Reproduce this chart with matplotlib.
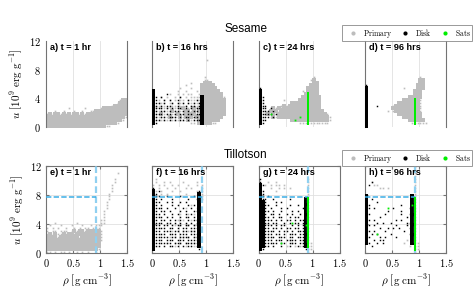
import matplotlib
matplotlib.use('Agg')
import matplotlib.pyplot as plt
from matplotlib.lines import Line2D

plt.rcParams['mathtext.fontset'] = 'cm'
plt.rcParams['font.family'] = ['Liberation Sans', 'DejaVu Sans']

# ---------------- data: occupancy ----------------
# Each map is a list of rows, top row first, last row = lowest u-bin (u 0-0.4).
# Column i covers rho in [0.05 i, 0.05 (i+1)]; row b covers u in [0.4 b, 0.4 (b+1)].
# '#' dense primary, '+' sparse primary, 'K' dense disk, 'k' sparse disk,
# 'G' dense satellites, 'g' sparse satellites, '.' empty.
RHO_STEP = 0.05
U_STEP = 0.4

a_grey = [
    "...........................+##",
    "..........................+###",
    "........................+#####",
    "........+.....+.....+#########",
    "...+..+...+..+..++############",
    "+#+##+#+#+##+#+###############",
    "#############################+",
    "############################+.",
    "##########################+...",
    "######################++......",
]

b_grey = [
    "....................+",
    "", "", "", "", "",
    "...................+",
    "...................++",
    "..............+....###",
    "............+.....#####",
    "..........+...+...######",
    ".........+..+...+.#######",
    "......+..+.+.++..+########",
    "...+.+..+.+.+.++++########+",
    "..+.+.+.+.++.+++++#########",
    "+.+++.++.+++.+++++#########",
    "+++++.+++++++.++++#########",
    "++.++++++++#+++#++#########",
    "+++++++#++++##+#+##########",
    "+++#+++++#++####++#########",
    "++++++#+++#+#+#+##########",
    "+++++++++++++#+++########",
    "..............++.#####++",
    "",
]
b_black = [
    "K",
    "K....k",
    "Kk.k......k.......K",
    "Kk..k.k..k...k..k.K",
    "Kkk.k..k.k.k.k.k.kK",
    "Kk.k.kk..k..k.kk.kK",
    "Kkkk.k.k.kk.k.k.kkK",
    "Kk.kk.k.kk.k.k.kk.K",
    "Kkkk.kk.k.kk.kk.kkK",
    "Kk.kk.kkk.k.kk.kk.K",
    "Kkk.k.k.k.kk.k.kkkK",
    "Kk................K",
    "",
]

c_grey = [
    "....................+",
    "...................+#",
    "....................##",
    "...................###",
    "..................####",
    "................+.####",
    ".................#####",
    "................#######",
    ".........+.....########",
    "............###########",
    "........+#+############",
    "....+#+#+##############",
    "..++#+#+################",
    "..+#+#+##################+",
    "....+#+###################+",
    "............##############+",
    "...............+++++++++++",
    "",
]
c_black = [
    "k", "K", "K", "Kk", "Kk", "Kk", "Kkk", "Kkk.k", "Kkkk.k",
    "Kkkkk.k", "Kkkk.k", "Kkk", "Kk", "",
]
c_green = [
    "..................G", "..................G", "..................G",
    "..................G", "..................G", "..................G",
    "..................G",
    "....g.............G",
    "...............g..G",
    ".............g....G",
    "..................G",
    "",
]

d_grey = [
    "....................+",
    "....................##",
    "....................##",
    "...................###",
    "..............+....###",
    "..................###",
    "..................###",
    "................#####",
    "..............######+",
    "............########+",
    "..........+#########+",
    "..........##########+",
    "........+.+#########+",
    "............#########",
    "..............#######",
    "................######",
    ".................++++++",
    "",
]
d_black = [
    "k", "K", "K", "K", "K", "K", "K",
    "K...k",
    "K", "K", "K", "K", "K", "K", "K",
]
d_green = ["..................G"] * 9 + [""]

e_grey = [
    "..........................+",
    "",
    ".........................+",
    ".........................+",
    "........................+",
    "........................+",
    "........................+",
    ".......................+",
    ".......................+",
    ".......................+",
    "......................+",
    "......................+",
    "......................+",
    ".....................+",
    ".....................+",
    ".....................+",
    "....................++",
    "...+.......+........++",
    ".+...+...+...+..+.+++",
    "+.+.+..+..+.+.++.+++",
    "+.++.+++.+#+##+#####+",
    "+#+#++#+##+#########+",
    "####+#######+#######+",
    "####################+",
    "####################",
    "####################",
    "###################+",
    "++.+.++.+..+.+.+..+",
]

f_grey = [
    ".+",
    ".+..+.+....+....+",
    "+.+.+..+.+...+..+.+",
    "..+..+..+...+.+...+",
    ".+.+...+..+.....+.+",
    "...+.+......+....++",
    ".................++",
    "..................+",
    "",
    "..............+",
    "............+...++",
    "",
    "..........+..+.+.+",
    "",
    ".........+.+..+.++",
    "",
    "........+.+.++.+.+",
    "",
    ".......+.+.+.+++.+",
    "",
    "......+.+.++.+.+++",
    "",
    ".....+..+.+.+.++.+",
    "........+...+..+.+",
    "",
    "",
]
f_black = [
    "k",
    "K.k..............k",
    "Kk...............K",
    "Kkk..k....k....k.K",
    "Kk.k...k.....k..kK",
    "Kkk..k.k..k.k....K",
    "Kk.k...k.k...k.k.K",
    "Kkkk.k..k..k..k..K",
    "Kk.kk.k...k.k..kkK",
    "Kkk.k..k.k..k.k..K",
    "Kkkk.k.k..k.kk.k.K",
    "Kk.kk.k.k.k..k.kkK",
    "Kkkk.kk.k.k.k.k.kK",
    "Kkk.kk.k.kk.kk.kkK",
    "Kkkkk.kk.k.kk.kkkK",
    "Kkk.kkk.kk.kk.kk.K",
    "Kkkkk.kkk.kkk.kkkK",
    "Kkkkkk.kk.kkkk.kkK",
    "Kkkk.kkk.kkk.kkkkK",
    "Kkkkkkk.kkk.kkkkkK",
    "Kkk.k.kk.k.k.kk.kK",
    "K................k",
    "",
]

g_grey = [
    "..................+",
    "...+..+...........+",
    "..+.+.++.+........+",
    "....+..+.+.+......+",
    "......+...........+",
] + ["..................+"] * 16 + [
    "...........+....+.+",
    "............+...+.++",
    "..........+..+.+..++",
    "..................++",
    "..................+",
]
g_black = [
    "k", "k", "Kk", "K", "Kk", "Kk", "Kk.k",
    "Kkk..k.....k.....K",
    "KKk...k.k........K",
    "KKkk..k....k..k..K",
    "KKk.k...k.k.....kK",
    "KKkk.k..k...k.k..K",
    "KKk.kk.k..k.k..k.K",
    "KKkk.k.kk..k.kk..K",
    "KKkkk.k.k.kk.k.kkK",
    "KKkk.kk..k.k.kk.kK",
    "KKkkk.k.kk..k.k.kK",
    "KKkk.kk.k.kk.kk.kK",
    "KKkkkk.k.kk.k.kkkK",
    "KKkkk.kk.k.kkk.kkK",
    "KKkkkk.kkk.kk.kkkK",
    "KKkkk.kkk.kkkk.kkK",
    "KKkkkkk.kk.kkk.kkK",
    "KKkk.k..k..k..k.kK",
    "Kk...............k",
    "",
]
g_green = ["..................G"] * 8 + [
    "............g.....G",
    ".................gG",
] + ["..................G"] * 5 + [
    "........g.........G",
    "..................G",
    "",
    "",
]

h_grey = ["..................+"] * 5 + [
    "..+...............+",
    "...++.............+",
    ".....++.+.........+",
] + ["..................+"] * 17 + [
    "...............+..+",
    "..............+...++",
    "................+.++",
    "..................++",
    "..................+",
]
h_black = [
    "..k",
    ".k",
    "", "", "",
    "K................K",
    "K.k..............K",
    "K...k............K",
    "Kk...........k...K",
    "Kk.k......k.....kK",
    "K.......k....k...K",
    "Kk.....k.....k..kK",
    "K....k.........k.K",
    "Kk.k.......k.k...K",
    "K...k.k..k.....kkK",
    "Kk.k.......k...k.K",
    "K....k..k.k.k...kK",
    "Kk.k...k......k..K",
    "K.k.k....k......kK",
    "Kk...k.k...k.....K",
    "K..k.kk..........K",
    "Kk..k.k..........K",
    "..k",
    "",
    "",
]
h_green = [
    "..................G",
    "..................G",
    ".................gG",
    "........g.........G",
] + ["..................G"] * 8 + [
    "....g.............G",
] + ["..................G"] * 5 + [""]

panel_labels = ["a) t = 1 hr", "b) t = 16 hrs", "c) t = 24 hrs", "d) t = 96 hrs",
                "e) t = 1 hr", "f) t = 16 hrs", "g) t = 24 hrs", "h) t = 96 hrs"]
panel_maps = [
    [a_grey], [b_grey, b_black], [c_grey, c_black, c_green], [d_grey, d_black, d_green],
    [e_grey], [f_grey, f_black], [g_grey, g_black, g_green], [h_grey, h_black, h_green],
]
row_titles = ["Sesame", "Tillotson"]
series_names = [r"$\mathrm{Primary}$", r"$\mathrm{Disk}$", r"$\mathrm{Sats}$"]
u_ticks = [0, 4, 8, 12]
rho_ticks = [0, 0.5, 1, 1.5]
rho_tick_labels = [r"$0$", r"$0.5$", r"$1$", r"$1.5$"]
u_tick_labels = [r"$0$", r"$4$", r"$8$", r"$12$"]
RHO_ROCHE = 0.92   # vertical dashed reference (Tillotson row)
U_REF = 7.75       # horizontal dashed reference

# ---------------- styling ----------------
GREY = '#bdbdbd'
GREEN = '#00ee00'
TALL = [(-0.5, -1.0), (0.5, -1.0), (0.5, 1.0), (-0.5, 1.0), (-0.5, -1.0)]
STYLES = {
    '#': dict(color=GREY, marker='s', ms=2.5, zorder=2),
    '+': dict(color=GREY, marker='s', ms=1.2, zorder=2),
    'K': dict(color='black', marker='s', ms=2.4, zorder=3),
    'k': dict(color='black', marker='s', ms=1.05, zorder=3),
    'G': dict(color=GREEN, marker=TALL, ms=2.4, zorder=5.5),
    'g': dict(color=GREEN, marker='s', ms=1.3, zorder=5.5),
}


def parse(rows):
    pts = {}
    n = len(rows)
    for k, row in enumerate(rows):
        assert len(row) <= 30, row
        b = n - 1 - k
        for i, ch in enumerate(row):
            if ch != '.':
                pts.setdefault(ch, ([], []))
                pts[ch][0].append(RHO_STEP * (i + 0.5))
                pts[ch][1].append(U_STEP * (b + 0.5))
    return pts


fig = plt.figure(figsize=(4.75, 3.0), dpi=100)
FW, FH = 475.0, 300.0
lefts = [46, 152, 258.5, 365]
W = 81
row_y = [(41, 127), (166, 253)]
SPINE = '0.45'

axes = []
for idx in range(8):
    r, c = divmod(idx, 4)
    y0, y1 = row_y[r]
    ax = fig.add_axes([lefts[c] / FW, 1 - y1 / FH, W / FW, (y1 - y0) / FH])
    ax.set_xlim(0, 1.5)
    ax.set_ylim(0, 12)
    for m in panel_maps[idx]:
        pts = parse(m)
        for ch, (xs, ys) in pts.items():
            st = STYLES[ch]
            ax.plot(xs, ys, ls='none', marker=st['marker'], ms=st['ms'],
                    mew=0, color=st['color'], zorder=st['zorder'])
    ax.text(0.05, 0.975, panel_labels[idx], transform=ax.transAxes, ha='left',
            va='top', fontsize=6.6, fontweight='bold', zorder=6)
    ax.set_axisbelow(True)
    if r == 0:
        ax.spines['top'].set_visible(False)
        ax.spines['bottom'].set_visible(False)
        if c == 2:
            ax.spines['right'].set_visible(False)
        ax.set_xticks([0.5, 1.0])
        ax.set_xticklabels([])
        ax.grid(True, axis='x', color='0.88', lw=0.6)
        ax.tick_params(axis='both', length=0)
    else:
        ax.set_xticks(rho_ticks)
        ax.set_xticklabels(rho_tick_labels, fontsize=7.5)
        ax.grid(True, color='0.88', lw=0.6)
        ax.tick_params(axis='both', length=2, direction='in', color='0.45',
                       right=True, top=True, pad=3)
        ax.set_xlabel(r"$\rho\ \left[\mathrm{g\ cm}^{-3}\right]$", fontsize=8, labelpad=2)
        ax.axvline(RHO_ROCHE, color='#8fd0f0', ls=(0, (3, 1.5)), lw=1.6, zorder=5)
        ax.hlines(U_REF, 0, RHO_ROCHE, color='#3aaee6', ls=(0, (3.5, 1.5)), lw=1.1, zorder=5)
    for s in ax.spines.values():
        s.set_color(SPINE)
        s.set_linewidth(0.8)
    ax.set_yticks(u_ticks)
    if c == 0:
        ax.set_yticklabels(u_tick_labels, fontsize=7.5)
        ax.set_ylabel(r"$u\ \left[10^{9}\ \mathrm{erg\ g}^{-1}\right]$", fontsize=8, labelpad=3)
    else:
        ax.set_yticklabels([])
    axes.append(ax)

# row titles
fig.text(246 / FW, 1 - 29 / FH, row_titles[0], ha='center', va='center', fontsize=8.5)
fig.text(246 / FW, 1 - 155 / FH, row_titles[1], ha='center', va='center', fontsize=8.5)

# legends
handles = [Line2D([], [], ls='none', marker='o', ms=3, mew=0, color=GREY),
           Line2D([], [], ls='none', marker='o', ms=3, mew=0, color='black'),
           Line2D([], [], ls='none', marker='o', ms=3, mew=0, color=GREEN)]
for ytop in (25, 150):
    leg = fig.legend(handles, series_names, loc='upper left',
                     bbox_to_anchor=(342 / FW, 1 - ytop / FH), ncol=3,
                     frameon=True, fancybox=False, edgecolor='0.5', fontsize=5.5,
                     handlelength=2.4, handletextpad=0.1, columnspacing=0.5,
                     borderpad=0.2, borderaxespad=0)
    leg.get_frame().set_linewidth(0.7)

fig.savefig('out.png', dpi=100)
